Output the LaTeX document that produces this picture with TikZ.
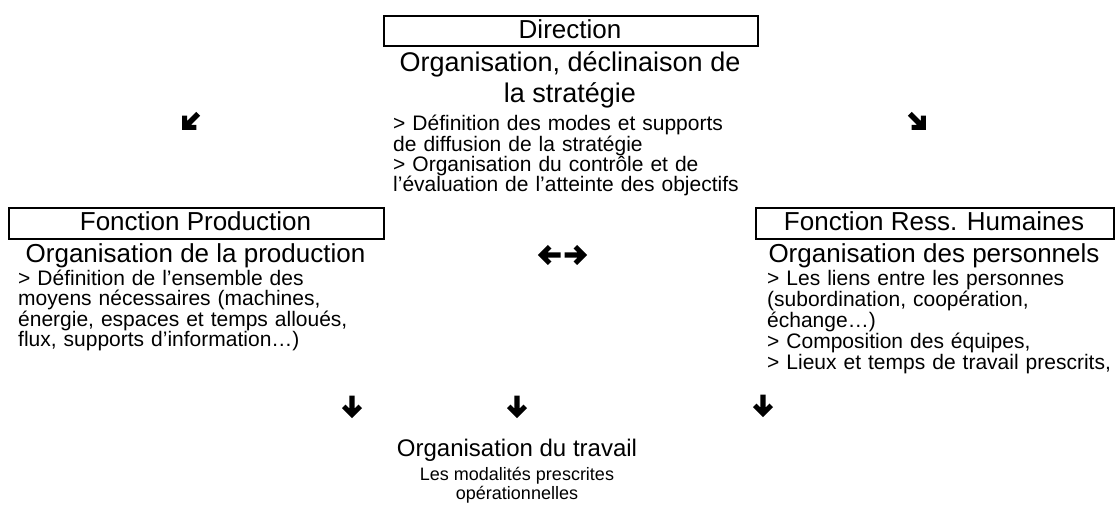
\documentclass[tikz,border=0pt]{standalone}
\usepackage{fontspec}
\setmainfont{Liberation Sans}
\lineskiplimit=-30pt\relax
\begin{document}
\begin{tikzpicture}[x=1pt,y=-1pt,
  titlebox/.style={draw, line width=1.8pt, inner sep=0pt, anchor=north west},
  boxtitle/.style={font=\fontsize{26}{30}\selectfont, anchor=base, inner sep=0pt},
  head/.style={font=\fontsize{27}{31}\selectfont, anchor=base, inner sep=0pt},
  shead/.style={font=\fontsize{26}{30}\selectfont, anchor=base, inner sep=0pt},
  subhead/.style={font=\fontsize{18}{20}\selectfont, anchor=base, inner sep=0pt},
  body/.style={font=\fontsize{21}{19.3}\selectfont, anchor=base west, inner sep=0pt, align=left, text width=#1},
  cbody/.style={font=\fontsize{21}{20.3}\selectfont, anchor=base west, inner sep=0pt, align=left, text width=#1},
  pics/wdarrow/.style={code={
    \fill (-2.7,-11.5) -- (2.7,-11.5) -- (2.7,1.5) -- (6.6,-2.4) -- (10,1.1) -- (0,11.2)
          -- (-10,1.1) -- (-6.6,-2.4) -- (-2.7,1.5) -- cycle;}}]
\useasboundingbox (0,0) rectangle (1117,505);

% Direction
\node[titlebox, minimum width=374pt, minimum height=30pt] (dirbox) at (383,15) {};
\node[boxtitle] (dir) at (570,39) {Direction};
\node[head] (dirh1) at (570,72) {Organisation, déclinaison de};
\node[head] (dirh2) at (570,103) {la stratégie};
\node[cbody=400pt] (dirb) at (393,131) {> Définition des modes et supports\\de diffusion de la stratégie\\> Organisation du contrôle et de\\l’évaluation de l’atteinte des objectifs};

% Production
\node[titlebox, minimum width=375pt, minimum height=31pt] (prodbox) at (8,207) {};
\node[boxtitle] (prod) at (195.5,231) {Fonction Production};
\node[shead] (prodh) at (195.5,263) {Organisation de la production};
\node[body=370pt] (prodb) at (18,286) {> Définition de l’ensemble des\\moyens nécessaires (machines,\\énergie, espaces et temps alloués,\\flux, supports d’information…)};

% RH
\node[titlebox, minimum width=358pt, minimum height=31pt] (rhbox) at (755,207) {};
\node[boxtitle] (rh) at (934,231) {Fonction Ress. Humaines};
\node[shead] (rhh) at (934,263) {Organisation des personnels};
\node[body=350pt] (rhb) at (767,286) {> Les liens entre les personnes\\(subordination, coopération,\\échange…)\\> Composition des équipes,\\> Lieux et temps de travail prescrits,};

% Travail
\node[head, font=\fontsize{24}{28}\selectfont] (trav) at (517,456) {Organisation du travail};
\node[subhead] (trav1) at (517,480) {Les modalités prescrites};
\node[subhead] (trav2) at (517,499) {opérationnelles};

% arrow glyphs
\coordinate (a1) at (190,122);
\coordinate (a2) at (918,122);
\coordinate (a3) at (549,255);
\coordinate (a4) at (576,255);
\coordinate (a5) at (352,407);
\coordinate (a6) at (517,407);
\coordinate (a7) at (763,406);
\pic[rotate=-45] at (a1) {wdarrow};
\pic[rotate=45] at (a2) {wdarrow};
\pic[rotate=-90] at (a3) {wdarrow};
\pic[rotate=90] at (a4) {wdarrow};
\pic at (a5) {wdarrow};
\pic at (a6) {wdarrow};
\pic at (a7) {wdarrow};
\end{tikzpicture}
\end{document}
